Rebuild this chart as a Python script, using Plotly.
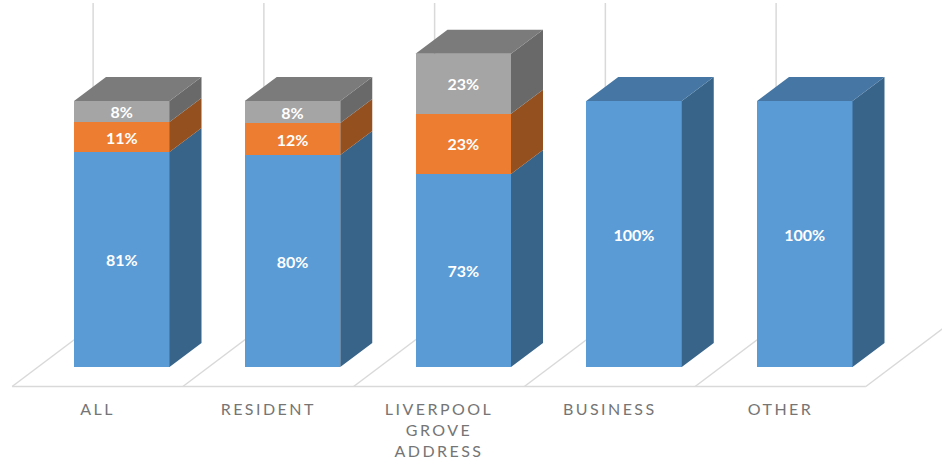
import plotly.graph_objects as go

categories = ["ALL", "RESIDENT", "LIVERPOOL<br>GROVE<br>ADDRESS", "BUSINESS", "OTHER"]
series_names = ["Blue", "Orange", "Grey"]
blue_values = [80.8, 79.7, 72.6, 100, 100]
orange_values = [11.3, 12.0, 22.6, 0, 0]
grey_values = [7.9, 8.3, 22.6, 0, 0]
series_values = [blue_values, orange_values, grey_values]

front_colors = ["#5B9BD5", "#ED7D31", "#A5A5A5"]
side_colors = ["#38648A", "#95501F", "#696969"]
top_colors = ["#4676A3", "#95501F", "#7B7B7B"]

W, H = 942, 463
CELL = 170.75
PX_Y = 2.66
x_of = lambda px: (px - 97.5) / CELL
y_of = lambda py: (367 - py) / PX_Y

BAR_W = 95.5 / CELL
BAR_OFF = -23.5 / CELL
DX = 32 / CELL
DY = 24 / PX_Y
FLOOR_Y = y_of(386.5)
WALL_TOP = y_of(3)
BACK_DX = 81 / CELL
BACK_DY = 61 / PX_Y

fig = go.Figure()
n = len(categories)
xs = list(range(n))

for name, vals, col in zip(series_names, series_values, front_colors):
    fig.add_trace(go.Bar(
        x=xs, y=vals, name=name, width=BAR_W, offset=BAR_OFF,
        marker=dict(color=col, line=dict(width=0)),
        text=[f"{v:.0f}%" if v else "" for v in vals],
        textposition="inside", insidetextanchor="middle", textangle=0,
        textfont=dict(family="Lato, Carlito, sans-serif", size=16, color="white", weight="bold"),
        hoverinfo="skip",
    ))

# side and top faces of each box, computed from the stacked values
base = [0.0] * n
tops = [[None] * n for _ in series_values]
for s, vals in enumerate(series_values):
    px_, py_ = [], []
    for i, v in enumerate(vals):
        if not v:
            continue
        xr = i + BAR_OFF + BAR_W
        y0, y1 = base[i], base[i] + v
        px_ += [xr, xr + DX, xr + DX, xr, xr, None]
        py_ += [y0, y0 + DY, y1 + DY, y1, y0, None]
        base[i] = y1
        tops[s][i] = y1
    fig.add_trace(go.Scatter(x=px_, y=py_, mode="lines", fill="toself", fillcolor=side_colors[s],
                             line=dict(width=0), hoverinfo="skip", showlegend=False))
for s in range(len(series_values)):
    px_, py_ = [], []
    for i in range(n):
        if tops[s][i] is None or tops[s][i] != base[i]:
            continue
        xl = i + BAR_OFF
        xr = xl + BAR_W
        y1 = base[i]
        px_ += [xl, xr, xr + DX, xl + DX, xl, None]
        py_ += [y1, y1, y1 + DY, y1 + DY, y1, None]
    fig.add_trace(go.Scatter(x=px_, y=py_, mode="lines", fill="toself", fillcolor=top_colors[s],
                             line=dict(width=0), hoverinfo="skip", showlegend=False))

# floor and back-wall lines
grid = dict(color="#D9D9D9", width=1.5)
shapes = [dict(type="line", layer="below", xref="x", yref="y",
               x0=-0.5, x1=n - 0.5, y0=FLOOR_Y, y1=FLOOR_Y, line=grid)]
for i in range(n + 1):
    xf = i - 0.5
    shapes.append(dict(type="line", layer="below", xref="x", yref="y",
                       x0=xf, x1=xf + BACK_DX, y0=FLOOR_Y, y1=FLOOR_Y + BACK_DY, line=grid))
    shapes.append(dict(type="line", layer="below", xref="x", yref="y",
                       x0=xf + BACK_DX, x1=xf + BACK_DX, y0=FLOOR_Y + BACK_DY, y1=WALL_TOP, line=grid))

fig.update_layout(
    width=W, height=H, margin=dict(l=0, r=0, t=0, b=0),
    paper_bgcolor="white", plot_bgcolor="white",
    barmode="stack", showlegend=False, shapes=shapes,
    uniformtext=dict(minsize=16, mode="show"),
    xaxis=dict(range=[x_of(0), x_of(W)], tickmode="array", tickvals=xs, ticktext=categories,
               showgrid=False, zeroline=False, showline=False, ticks="", fixedrange=True,
               anchor="free", position=(H - 398) / H, tickangle=0,
               tickfont=dict(family="Lato, Carlito, sans-serif", size=16, color="#757575")),
    yaxis=dict(range=[y_of(H), y_of(0)], visible=False, showgrid=False, zeroline=False, fixedrange=True),
)

post = """
var st = document.createElement('style');
st.textContent = 'body{margin:0;padding:0;overflow:hidden} .xtick text{letter-spacing:2.45px}';
document.head.appendChild(st);
"""
fig.write_html("out.html", post_script=post, config={"displayModeBar": False})
